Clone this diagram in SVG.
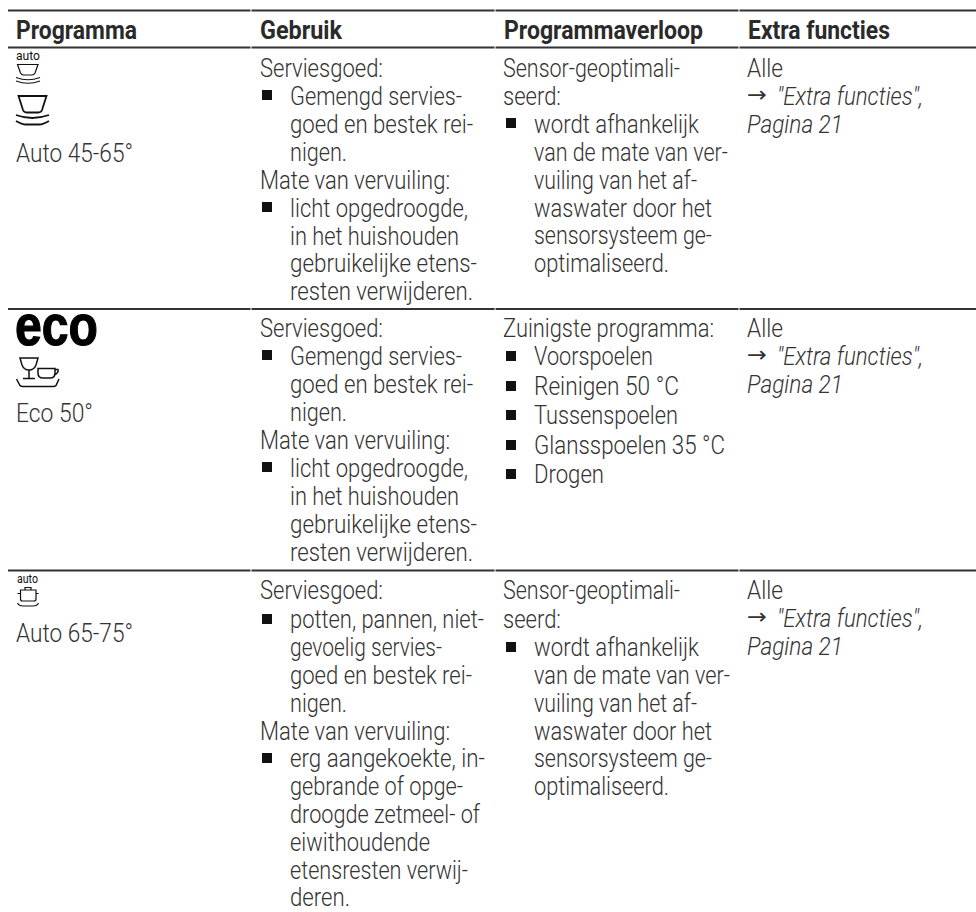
<svg xmlns="http://www.w3.org/2000/svg" width="976" height="912" viewBox="0 0 976 912">
<style>
text{font-family:"Roboto","Liberation Sans",sans-serif;font-size:26px;font-weight:300;fill:#333}
.h{font-weight:700;font-size:25px;fill:#2a2a2a}
.i{font-style:italic}
.a{font-family:"DejaVu Sans",sans-serif;font-weight:400;font-size:22px}
.u{font-size:13px;font-weight:400;fill:#111}
.r{stroke:#333;stroke-width:1.8;fill:none}
.b{fill:#111}
.ic{stroke:#111;fill:none;stroke-width:1.2}
.ict{stroke:#111;fill:none;stroke-width:1.8}
</style>
<rect width="976" height="912" fill="#fff"/>
<g id="rules">
<path class="r" d="M8 10.500H250.500M251.500 10.500H494.500M495.500 10.500H738.500M739.500 10.500H976M8 47.500H250.500M251.500 47.500H494.500M495.500 47.500H738.500M739.500 47.500H976M8 309H250.500M251.500 309H494.500M495.500 309H738.500M739.500 309H976M8 570.500H250.500M251.500 570.500H494.500M495.500 570.500H738.500M739.500 570.500H976"/>
</g>
<g id="header">
<text class="h" x="16" y="38.500" textLength="121" lengthAdjust="spacingAndGlyphs">Programma</text>
<text class="h" x="260" y="38.500" textLength="82" lengthAdjust="spacingAndGlyphs">Gebruik</text>
<text class="h" x="504" y="38.500" textLength="199" lengthAdjust="spacingAndGlyphs">Programmaverloop</text>
<text class="h" x="748" y="38.500" textLength="142" lengthAdjust="spacingAndGlyphs">Extra functies</text>
</g>
<g id="row1">
<text class="u" x="16" y="60" textLength="24" lengthAdjust="spacingAndGlyphs">auto</text>
<path class="ic" d="M17.500 64.500H38L35 73Q34 75 32 75H23.500Q21.500 75 20.500 73ZM16 77.500Q28 82 40 77.500M16 81Q28 85.500 40 81"/>
<path class="ict" d="M18.500 96H46.500L42 110Q41 112.500 38.500 112.500H26.500Q24 112.500 23 110ZM16 115Q32 121 49 115M16 121Q22 124.500 26 124.500H39Q43 124.500 49 121"/>
<text x="16" y="162" textLength="117" lengthAdjust="spacingAndGlyphs">Auto 45-65°</text>
<text x="260" y="77" textLength="123" lengthAdjust="spacingAndGlyphs">Serviesgoed:</text>
<rect class="b" x="262" y="90" width="10" height="10"/>
<text x="290" y="105" textLength="172" lengthAdjust="spacingAndGlyphs">Gemengd servies-</text>
<text x="290" y="133" textLength="183" lengthAdjust="spacingAndGlyphs">goed en bestek rei-</text>
<text x="290" y="161" textLength="57" lengthAdjust="spacingAndGlyphs">nigen.</text>
<text x="260" y="189" textLength="190" lengthAdjust="spacingAndGlyphs">Mate van vervuiling:</text>
<rect class="b" x="262" y="202" width="10" height="10"/>
<text x="290" y="217" textLength="178" lengthAdjust="spacingAndGlyphs">licht opgedroogde,</text>
<text x="290" y="245" textLength="169" lengthAdjust="spacingAndGlyphs">in het huishouden</text>
<text x="290" y="272" textLength="187" lengthAdjust="spacingAndGlyphs">gebruikelijke etens-</text>
<text x="290" y="300" textLength="183" lengthAdjust="spacingAndGlyphs">resten verwijderen.</text>
<text x="503" y="77" textLength="177" lengthAdjust="spacingAndGlyphs">Sensor-geoptimali-</text>
<text x="503" y="105" textLength="58" lengthAdjust="spacingAndGlyphs">seerd:</text>
<rect class="b" x="506" y="118" width="10" height="10"/>
<text x="534" y="133" textLength="165" lengthAdjust="spacingAndGlyphs">wordt afhankelijk</text>
<text x="534" y="161" textLength="194" lengthAdjust="spacingAndGlyphs">van de mate van ver-</text>
<text x="534" y="189" textLength="163" lengthAdjust="spacingAndGlyphs">vuiling van het af-</text>
<text x="534" y="217" textLength="178" lengthAdjust="spacingAndGlyphs">waswater door het</text>
<text x="534" y="244" textLength="178" lengthAdjust="spacingAndGlyphs">sensorsysteem ge-</text>
<text x="534" y="272" textLength="135" lengthAdjust="spacingAndGlyphs">optimaliseerd.</text>
<text x="747" y="77" textLength="36" lengthAdjust="spacingAndGlyphs">Alle</text>
<text class="a" x="747" y="102" textLength="20" lengthAdjust="spacingAndGlyphs">→</text>
<text class="i" x="777" y="105" textLength="146" lengthAdjust="spacingAndGlyphs">"Extra functies",</text>
<text class="i" x="747" y="133" textLength="96" lengthAdjust="spacingAndGlyphs">Pagina 21</text>
</g>
<g id="row2">
<text x="15" y="345" textLength="83" lengthAdjust="spacingAndGlyphs" style="font-family:'Liberation Sans',sans-serif;font-size:58px;font-weight:700;fill:#000;stroke:#000;stroke-width:1.2">eco</text>
<path class="ict" style="stroke-width:1.5" d="M20 358H38L36 365Q34 370 29 370Q24 370 22 365ZM29 370V378M23 378.500H35M38 368.500H55V373Q55 378 50 378H43Q38 378 38 373ZM55 369.500H58Q59 373 54 375M16.500 379L20 385.500Q21 386.500 23 386.500H53Q55 386.500 56 385.500L59 379"/>
<text x="16" y="422" textLength="77" lengthAdjust="spacingAndGlyphs">Eco 50°</text>
<text x="260" y="337" textLength="123" lengthAdjust="spacingAndGlyphs">Serviesgoed:</text>
<rect class="b" x="262" y="350" width="10" height="10"/>
<text x="290" y="365" textLength="172" lengthAdjust="spacingAndGlyphs">Gemengd servies-</text>
<text x="290" y="393" textLength="183" lengthAdjust="spacingAndGlyphs">goed en bestek rei-</text>
<text x="290" y="421" textLength="57" lengthAdjust="spacingAndGlyphs">nigen.</text>
<text x="260" y="449" textLength="190" lengthAdjust="spacingAndGlyphs">Mate van vervuiling:</text>
<rect class="b" x="262" y="462" width="10" height="10"/>
<text x="290" y="477" textLength="178" lengthAdjust="spacingAndGlyphs">licht opgedroogde,</text>
<text x="290" y="505" textLength="169" lengthAdjust="spacingAndGlyphs">in het huishouden</text>
<text x="290" y="533" textLength="187" lengthAdjust="spacingAndGlyphs">gebruikelijke etens-</text>
<text x="290" y="561" textLength="183" lengthAdjust="spacingAndGlyphs">resten verwijderen.</text>
<text x="503" y="337" textLength="211" lengthAdjust="spacingAndGlyphs">Zuinigste programma:</text>
<rect class="b" x="506" y="351" width="10" height="10"/>
<text x="534" y="365" textLength="119" lengthAdjust="spacingAndGlyphs">Voorspoelen</text>
<rect class="b" x="506" y="381" width="10" height="10"/>
<text x="534" y="395" textLength="145" lengthAdjust="spacingAndGlyphs">Reinigen 50 °C</text>
<rect class="b" x="506" y="410" width="10" height="10"/>
<text x="534" y="424" textLength="144" lengthAdjust="spacingAndGlyphs">Tussenspoelen</text>
<rect class="b" x="506" y="440" width="10" height="10"/>
<text x="534" y="454" textLength="191" lengthAdjust="spacingAndGlyphs">Glansspoelen 35 °C</text>
<rect class="b" x="506" y="469" width="10" height="10"/>
<text x="534" y="483" textLength="70" lengthAdjust="spacingAndGlyphs">Drogen</text>
<text x="747" y="337" textLength="36" lengthAdjust="spacingAndGlyphs">Alle</text>
<text class="a" x="747" y="362" textLength="20" lengthAdjust="spacingAndGlyphs">→</text>
<text class="i" x="777" y="365" textLength="146" lengthAdjust="spacingAndGlyphs">"Extra functies",</text>
<text class="i" x="747" y="393" textLength="96" lengthAdjust="spacingAndGlyphs">Pagina 21</text>
</g>
<g id="row3">
<text class="u" x="17" y="583" textLength="21" lengthAdjust="spacingAndGlyphs">auto</text>
<path class="ic" d="M20.500 590H36V599Q36 601 34 601H22.500Q20.500 601 20.500 599ZM25 590V587.500H31V590M17.500 593.500H20.500M36 593.500H38.500M17.500 603Q19 606 23 606H33Q37 606 38.500 603"/>
<text x="16" y="642" textLength="117" lengthAdjust="spacingAndGlyphs">Auto 65-75°</text>
<text x="260" y="599" textLength="123" lengthAdjust="spacingAndGlyphs">Serviesgoed:</text>
<rect class="b" x="262" y="614" width="10" height="10"/>
<text x="290" y="628" textLength="194" lengthAdjust="spacingAndGlyphs">potten, pannen, niet-</text>
<text x="290" y="656" textLength="152" lengthAdjust="spacingAndGlyphs">gevoelig servies-</text>
<text x="290" y="684" textLength="182" lengthAdjust="spacingAndGlyphs">goed en bestek rei-</text>
<text x="290" y="712" textLength="57" lengthAdjust="spacingAndGlyphs">nigen.</text>
<text x="260" y="740" textLength="190" lengthAdjust="spacingAndGlyphs">Mate van vervuiling:</text>
<rect class="b" x="262" y="753" width="10" height="10"/>
<text x="290" y="767" textLength="195" lengthAdjust="spacingAndGlyphs">erg aangekoekte, in-</text>
<text x="290" y="795" textLength="173" lengthAdjust="spacingAndGlyphs">gebrande of opge-</text>
<text x="290" y="823" textLength="190" lengthAdjust="spacingAndGlyphs">droogde zetmeel- of</text>
<text x="290" y="851" textLength="140" lengthAdjust="spacingAndGlyphs">eiwithoudende</text>
<text x="290" y="879" textLength="178" lengthAdjust="spacingAndGlyphs">etensresten verwij-</text>
<text x="290" y="906" textLength="60" lengthAdjust="spacingAndGlyphs">deren.</text>
<text x="503" y="599" textLength="177" lengthAdjust="spacingAndGlyphs">Sensor-geoptimali-</text>
<text x="503" y="628" textLength="58" lengthAdjust="spacingAndGlyphs">seerd:</text>
<rect class="b" x="506" y="642" width="10" height="10"/>
<text x="534" y="656" textLength="165" lengthAdjust="spacingAndGlyphs">wordt afhankelijk</text>
<text x="534" y="684" textLength="196" lengthAdjust="spacingAndGlyphs">van de mate van ver-</text>
<text x="534" y="712" textLength="163" lengthAdjust="spacingAndGlyphs">vuiling van het af-</text>
<text x="534" y="740" textLength="178" lengthAdjust="spacingAndGlyphs">waswater door het</text>
<text x="534" y="767" textLength="178" lengthAdjust="spacingAndGlyphs">sensorsysteem ge-</text>
<text x="534" y="795" textLength="135" lengthAdjust="spacingAndGlyphs">optimaliseerd.</text>
<text x="747" y="599" textLength="36" lengthAdjust="spacingAndGlyphs">Alle</text>
<text class="a" x="747" y="624" textLength="20" lengthAdjust="spacingAndGlyphs">→</text>
<text class="i" x="777" y="627" textLength="146" lengthAdjust="spacingAndGlyphs">"Extra functies",</text>
<text class="i" x="747" y="655" textLength="96" lengthAdjust="spacingAndGlyphs">Pagina 21</text>
</g>
</svg>
